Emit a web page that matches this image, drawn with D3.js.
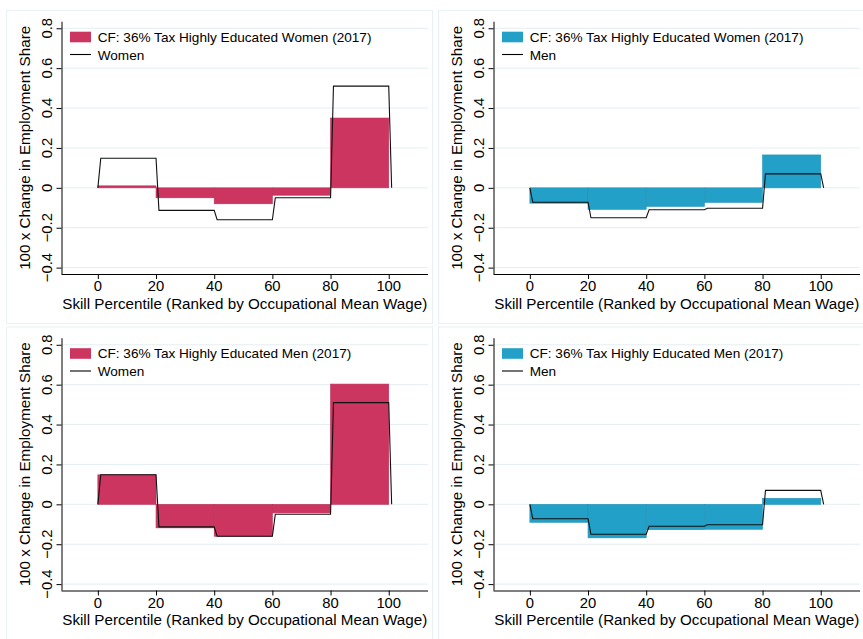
<!DOCTYPE html>
<html>
<head>
<meta charset="utf-8">
<script src="https://cdn.jsdelivr.net/npm/d3@7"></script>
<style>
  html, body { margin: 0; padding: 0; background: #fff; }
  svg { display: block; font-family: "Liberation Sans", Arial, Helvetica, sans-serif; }
</style>
</head>
<body>
<svg id="chart" width="863" height="639"></svg>
<script>
// Skill quintiles: left edge of each 20-point bin
const binStarts = [0, 20, 40, 60, 80];
const binWidth = 20;
const xTicks = [0, 20, 40, 60, 80, 100];
const yTicks = [-0.4, -0.2, 0, 0.2, 0.4, 0.6, 0.8];

// Counterfactual changes (100 x change in employment share) by quintile
const cfWomenTaxWomen = [0.01, -0.05, -0.08, -0.037, 0.35];
const cfWomenTaxMen   = [-0.077, -0.108, -0.093, -0.073, 0.165];
const cfMenTaxWomen   = [0.148, -0.118, -0.16, -0.043, 0.603];
const cfMenTaxMen     = [-0.09, -0.168, -0.127, -0.125, 0.03];

// Observed changes by quintile
const obsWomen = [0.148, -0.113, -0.16, -0.05, 0.51];
const obsMen   = [-0.072, -0.15, -0.11, -0.102, 0.07];

const cfLabelWomen = "CF: 36% Tax Highly Educated Women (2017)";
const cfLabelMen   = "CF: 36% Tax Highly Educated Men (2017)";

const crimson = "#cc3560";
const teal = "#23a0c8";

const panels = [
  { dx: 0,   dy: 0,     bars: cfWomenTaxWomen, line: obsWomen, color: crimson, cfLabel: cfLabelWomen, lineLabel: "Women" },
  { dx: 432, dy: 0,     bars: cfWomenTaxMen,   line: obsMen,   color: teal,    cfLabel: cfLabelWomen, lineLabel: "Men" },
  { dx: 0,   dy: 316.5, bars: cfMenTaxWomen,   line: obsWomen, color: crimson, cfLabel: cfLabelMen,   lineLabel: "Women" },
  { dx: 432, dy: 316.5, bars: cfMenTaxMen,     line: obsMen,   color: teal,    cfLabel: cfLabelMen,   lineLabel: "Men" }
];

const svg = d3.select("#chart");
svg.append("rect").attr("width", 863).attr("height", 639).attr("fill", "#fff");

// Plot region inside each panel
const plotL = 61.5, plotR = 428, plotT = 21.7, plotB = 274;
const x = d3.scaleLinear().domain([-12.5, 113.5]).range([plotL, plotR]);
const y = d3.scaleLinear().domain([-0.432, 0.833]).range([plotB, plotT]);

const gridColor = "#e4eef1";
const tickFont = 14.8, titleFont = 15.2, legendFont = 13.6;

function fmt(v) {
  if (v === 0) return "0";
  const s = Math.abs(v).toFixed(1);
  return (v < 0 ? "\u22120" : "0") + s.slice(1);
}

panels.forEach(p => {
  const g = svg.append("g").attr("transform", `translate(${p.dx},${p.dy})`);

  // panel frame
  g.append("rect")
    .attr("x", 6.5).attr("y", 10.5).attr("width", 426).attr("height", 313)
    .attr("fill", "#fff").attr("stroke", "#e8f1f3").attr("stroke-width", 1);

  // horizontal grid
  g.append("g").selectAll("line").data(yTicks).join("line")
    .attr("x1", plotL).attr("x2", plotR)
    .attr("y1", d => y(d)).attr("y2", d => y(d))
    .attr("stroke", gridColor).attr("stroke-width", 1);

  // counterfactual bars
  const darker = d3.color(p.color).darker(0.25).formatHex();
  g.append("g").selectAll("rect").data(p.bars).join("rect")
    .attr("x", (d, i) => x(binStarts[i]))
    .attr("width", (d, i) => x(binStarts[i] + binWidth) - x(binStarts[i]))
    .attr("y", d => Math.min(y(d), y(0)))
    .attr("height", d => Math.abs(y(d) - y(0)))
    .attr("fill", p.color)
    .attr("stroke", darker).attr("stroke-width", 0.6);

  // observed change as a step line
  const pts = [[0, 0]];
  p.line.forEach((v, i) => {
    pts.push([binStarts[i] + 1, v]);
    pts.push([binStarts[i] + binWidth, v]);
  });
  pts.push([binStarts[binStarts.length - 1] + binWidth + 1, 0]);
  g.append("path")
    .attr("d", d3.line().x(d => x(d[0])).y(d => y(d[1]))(pts))
    .attr("fill", "none").attr("stroke", "#111").attr("stroke-width", 1.1);

  // y axis
  const ya = g.append("g").attr("transform", `translate(${plotL},0)`)
    .call(d3.axisLeft(y).tickValues(yTicks).tickSize(5).tickSizeOuter(0).tickFormat(""));
  ya.select(".domain").attr("d", `M0.5,${plotT}V${plotB}`).attr("stroke", "#000");
  ya.selectAll(".tick line").attr("stroke", "#000");
  g.append("g").selectAll("text").data(yTicks).join("text")
    .attr("transform", d => `translate(52,${y(d)}) rotate(-90)`)
    .attr("text-anchor", "middle")
    .attr("font-size", tickFont).attr("fill", "#000")
    .text(fmt);

  // x axis
  const xa = g.append("g").attr("transform", `translate(0,${plotB})`)
    .call(d3.axisBottom(x).tickValues(xTicks).tickSize(5).tickSizeOuter(0).tickFormat(""));
  xa.select(".domain").attr("d", `M${plotL},0.5H${plotR}`).attr("stroke", "#000");
  xa.selectAll(".tick line").attr("stroke", "#000");
  g.append("g").selectAll("text").data(xTicks).join("text")
    .attr("x", d => x(d)).attr("y", 291.4)
    .attr("text-anchor", "middle")
    .attr("font-size", tickFont).attr("fill", "#000")
    .text(d => d);

  // axis titles
  g.append("text")
    .attr("x", (plotL + plotR) / 2).attr("y", 308.6)
    .attr("text-anchor", "middle").attr("font-size", titleFont)
    .text("Skill Percentile (Ranked by Occupational Mean Wage)");
  g.append("text")
    .attr("transform", `translate(29.5,${(plotT + plotB) / 2}) rotate(-90)`)
    .attr("text-anchor", "middle").attr("font-size", titleFont)
    .text("100 x Change in Employment Share");

  // legend
  const lg = g.append("g");
  lg.append("rect").attr("x", 70).attr("y", 31.7).attr("width", 21).attr("height", 10.6)
    .attr("fill", p.color);
  lg.append("text").attr("x", 97.7).attr("y", 41.5).attr("font-size", legendFont).text(p.cfLabel);
  lg.append("line").attr("x1", 70).attr("x2", 91).attr("y1", 54.5).attr("y2", 54.5)
    .attr("stroke", "#000").attr("stroke-width", 1.1);
  lg.append("text").attr("x", 97.7).attr("y", 59.5).attr("font-size", legendFont).text(p.lineLabel);
});
</script>
</body>
</html>
